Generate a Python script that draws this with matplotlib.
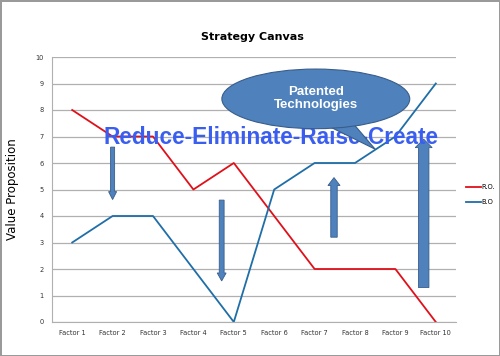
import matplotlib.pyplot as plt
from matplotlib.patches import Ellipse, Polygon

# data
factors = ['Factor 1', 'Factor 2', 'Factor 3', 'Factor 4', 'Factor 5',
           'Factor 6', 'Factor 7', 'Factor 8', 'Factor 9', 'Factor 10']
ro_values = [8, 7, 7, 5, 6, 4, 2, 2, 2, 0]
bo_values = [3, 4, 4, 2, 0, 5, 6, 6, 7, 9]
y_ticks = list(range(0, 11))

fig = plt.figure(figsize=(5.0, 3.56), dpi=100)
fig.patch.set_edgecolor('#9a9a9a')
fig.patch.set_linewidth(2)
ax = fig.add_axes([52 / 500, 1 - 322 / 356, 404 / 500, 265 / 356])

x = list(range(len(factors)))
ax.plot(x, ro_values, color='#e0101a', lw=1.3, label='R.O.')
ax.plot(x, bo_values, color='#1f6ea8', lw=1.3, label='B.O')

ax.set_xlim(-0.5, len(factors) - 0.5)
ax.set_ylim(0, 10)
ax.set_yticks(y_ticks)
ax.set_xticks(x)
ax.set_xticklabels(factors)
ax.tick_params(length=0, labelsize=4.8, colors='#333333', pad=6)
ax.grid(axis='y', color='#b0b0b0', lw=0.9)
ax.set_axisbelow(True)
for s in ['top', 'right']:
    ax.spines[s].set_visible(False)
for s in ['left', 'bottom']:
    ax.spines[s].set_color('#b0b0b0')

ax.set_ylabel('Value Proposition', fontsize=8.5, labelpad=12)
fig.text(0.505, 1 - 37 / 356, 'Strategy Canvas', ha='center', va='center',
         fontsize=8, fontweight='bold')

ax.legend(loc='center left', bbox_to_anchor=(1.01, 0.48), frameon=False,
          fontsize=4.8, handlelength=2.2, handletextpad=0.1, labelspacing=1.3)

# block arrows: x position, start y, end y, shaft width, head width, head length
fill = '#4f81bd'
edge = '#385d8a'
arrows = [(1.0, 6.6, 4.62, 0.1, 0.2, 0.3),
          (3.7, 4.6, 1.55, 0.12, 0.22, 0.3),
          (6.48, 3.2, 5.45, 0.16, 0.3, 0.3),
          (8.7, 1.3, 6.9, 0.26, 0.42, 0.32)]
for ax_x, y0, y1, w, hw, hl in arrows:
    ax.arrow(ax_x, y0, 0, y1 - y0, width=w, head_width=hw, head_length=hl,
             length_includes_head=True, fc=fill, ec=edge, lw=0.6, zorder=4)

ax.text(4.93, 6.97, 'Reduce-Eliminate-Raise-Create', ha='center', va='center',
        fontsize=16.3, fontweight='bold', color='#3a5ff0',
        family='Liberation Sans', zorder=5)

# callout bubble
ell = Ellipse((6.03, 8.42), 4.65, 2.25, fc=fill, ec=edge, lw=0.8, zorder=7)
ax.add_patch(ell)
ax.add_patch(Polygon([(6.2, 7.5), (7.5, 6.52), (6.95, 7.5)], closed=True,
                     fc=fill, ec=edge, lw=0.8, zorder=6))
ax.text(6.03, 8.42, 'Patented\nTechnologies', ha='center', va='center',
        fontsize=9.5, fontweight='bold', color='white', family='Liberation Sans',
        linespacing=1.1, zorder=8)

fig.savefig('out.png', dpi=100)
